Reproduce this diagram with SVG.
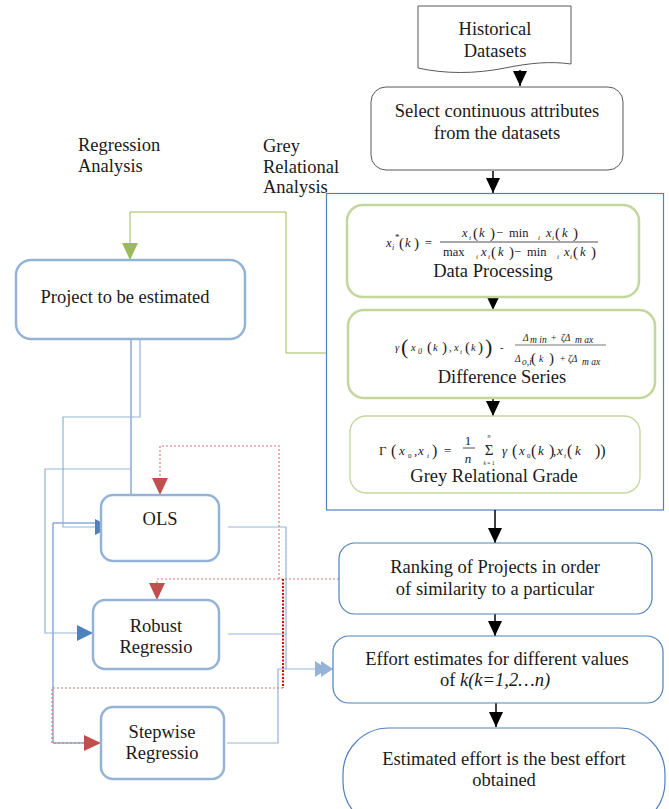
<svg xmlns="http://www.w3.org/2000/svg" width="669" height="809" viewBox="0 0 669 809" font-family="'Liberation Serif', 'Times New Roman', serif">
<defs>
<style>
text{fill:#1a1a1a}
.t{font-size:18.5px;text-anchor:middle}
.lbl{font-size:18.5px}
.i{font-style:italic}
.lb{fill:#fff;stroke:#95B3D7;stroke-width:2.5}
.rb{fill:#fff;stroke:#4F81BD;stroke-width:1.2}
.gb{fill:#fff;stroke:#C3D69B;stroke-width:2.5}
.blk{fill:none;stroke:#000;stroke-width:1.5}
.cd{fill:none;stroke:#4F81BD;stroke-width:1}
.cl{fill:none;stroke:#95B3D7;stroke-width:1.2}
.cg{fill:none;stroke:#9BBB59;stroke-width:1}
.cr{fill:none;stroke:#D77B78;stroke-width:1.2;stroke-dasharray:2 2}
.crr{fill:none;stroke:#E00000;stroke-width:2;stroke-dasharray:2 1.5}
.f1{font-size:12.5px}
.f2{font-size:10.5px}
.f3{font-size:13px}
</style>
<marker id="ab" markerUnits="userSpaceOnUse" markerWidth="15" markerHeight="14" refX="15" refY="7" orient="auto"><path d="M0,0 L15,7 L0,14 Z" fill="#000"/></marker>
<marker id="ag" markerUnits="userSpaceOnUse" markerWidth="17" markerHeight="16" refX="17" refY="8" orient="auto"><path d="M0,0 L17,8 L0,16 Z" fill="#9BBB59"/></marker>
<marker id="ar" markerUnits="userSpaceOnUse" markerWidth="17" markerHeight="16" refX="17" refY="8" orient="auto"><path d="M0,0 L17,8 L0,16 Z" fill="#C0504D"/></marker>
<marker id="au" markerUnits="userSpaceOnUse" markerWidth="16" markerHeight="16" refX="16" refY="8" orient="auto"><path d="M0,0 L16,8 L0,16 Z" fill="#4F81BD"/></marker>
<marker id="ad" markerUnits="userSpaceOnUse" markerWidth="18" markerHeight="16" refX="18" refY="8" orient="auto"><path d="M0,0 L12,8 L0,16 Z M6,0 L18,8 L6,16 Z" fill="#95B3D7"/></marker>
</defs>

<g id="labels">
<text class="lbl" x="78" y="151">Regression</text>
<text class="lbl" x="78" y="172">Analysis</text>
<text class="lbl" x="263" y="152">Grey</text>
<text class="lbl" x="263" y="173">Relational</text>
<text class="lbl" x="263" y="193">Analysis</text>
</g>

<g id="grey-relational-frame">
<rect x="326.5" y="193.5" width="337" height="316.5" fill="none" stroke="#4F81BD" stroke-width="1.2"/>
</g>

<g id="connectors">
<path class="blk" d="M520,70 V86" marker-end="url(#ab)"/>
<path class="blk" d="M493,171 V193" marker-end="url(#ab)"/>
<path class="blk" d="M493,297 V310" marker-end="url(#ab)"/>
<path class="blk" d="M493,398 V416" marker-end="url(#ab)"/>
<path class="blk" d="M495,510 V543" marker-end="url(#ab)"/>
<path class="blk" d="M495,614 V636" marker-end="url(#ab)"/>
<path class="blk" d="M496,703 V727" marker-end="url(#ab)"/>
<path class="cg" d="M326,353 H286 V212 H130 V260" marker-end="url(#ag)"/>
<path class="cd" d="M131,340 V523 H53 V743 H88"/>
<path class="cl" d="M131,469 H45 V633 H93" marker-end="url(#au)"/>
<path class="cl" d="M140,340 V417 H63 V527 H111" marker-end="url(#au)"/>
<path class="cl" d="M228,527 H286 V669 H333" marker-end="url(#ad)"/>
<path class="cl" d="M228,634 H286"/>
<path class="cl" d="M227,743 H278 V669 H286"/>
<path class="cr" d="M339,579 H279 V446 H160 V495" marker-end="url(#ar)"/>
<path class="cr" d="M279,579 H157 V600" marker-end="url(#ar)"/>
<path class="crr" d="M283,579 V688"/>
<path class="cr" d="M283,688 H52 V743 H101" marker-end="url(#ar)"/>
</g>

<g id="historical-datasets">
<path d="M418,6 H571 V64 C550,61 530,63 505,68 C475,74 445,74 418,68 Z" fill="#fff" stroke="#595959" stroke-width="1"/>
<text class="t" x="495" y="35">Historical</text>
<text class="t" x="495" y="57">Datasets</text>
</g>

<g id="select-attributes">
<rect x="371" y="87" width="252" height="83" rx="15" fill="#fff" stroke="#595959" stroke-width="1"/>
<text class="t" x="497" y="117">Select continuous attributes</text>
<text class="t" x="497" y="139">from the datasets</text>
</g>

<g id="data-processing">
<rect class="gb" x="347" y="205" width="292" height="92" rx="16"/>
<text class="f1" y="247"><tspan x="386" class="i">x</tspan><tspan x="392" y="250" font-size="8" class="i">i</tspan><tspan x="395" y="240" font-size="9">*</tspan><tspan x="399" y="248" font-size="15">(</tspan><tspan x="405" y="247" class="i">k</tspan><tspan x="414" y="248" font-size="15">)</tspan><tspan x="425" y="247">=</tspan></text>
<line x1="440" y1="242" x2="598" y2="242" stroke="#222" stroke-width="0.8"/>
<text class="f1" y="237"><tspan x="462" class="i">x</tspan><tspan x="469" y="240" font-size="7" class="i">i</tspan><tspan x="473" y="238" font-size="15">(</tspan><tspan x="479" y="237" class="i">k</tspan><tspan x="490" y="238" font-size="15">)</tspan><tspan x="496" y="237">−</tspan><tspan x="509">min</tspan><tspan x="538" y="240" font-size="7" class="i">i</tspan><tspan x="546" y="237" class="i">x</tspan><tspan x="552" y="240" font-size="7" class="i">i</tspan><tspan x="555" y="238" font-size="15">(</tspan><tspan x="562" y="237" class="i">k</tspan><tspan x="573" y="238" font-size="15">)</tspan></text>
<text class="f1" y="256"><tspan x="443">max</tspan><tspan x="476" y="259" font-size="7" class="i">i</tspan><tspan x="481" y="256" class="i">x</tspan><tspan x="488" y="259" font-size="7" class="i">i</tspan><tspan x="491" y="257" font-size="15">(</tspan><tspan x="498" y="256" class="i">k</tspan><tspan x="509" y="257" font-size="15">)</tspan><tspan x="514" y="256">−</tspan><tspan x="527">min</tspan><tspan x="557" y="259" font-size="7" class="i">i</tspan><tspan x="564" y="256" class="i">x</tspan><tspan x="570" y="259" font-size="7" class="i">i</tspan><tspan x="573" y="257" font-size="15">(</tspan><tspan x="580" y="256" class="i">k</tspan><tspan x="591" y="257" font-size="15">)</tspan></text>
<text class="t" x="493" y="277">Data Processing</text>
</g>

<g id="difference-series">
<rect class="gb" x="348" y="310" width="307" height="88" rx="16"/>
<text class="f2" y="351"><tspan x="395" class="i">γ</tspan><tspan x="401" y="354" font-size="22">(</tspan><tspan x="411" y="351" class="i">x</tspan><tspan x="418" y="354" font-size="8" class="i">0</tspan><tspan x="427" y="352" font-size="15">(</tspan><tspan x="433" y="351" class="i">k</tspan><tspan x="442" y="352" font-size="15">)</tspan><tspan x="449" y="351">,</tspan><tspan x="454" class="i">x</tspan><tspan x="460" y="354" font-size="7" class="i">i</tspan><tspan x="465" y="352" font-size="15">(</tspan><tspan x="471" y="351" class="i">k</tspan><tspan x="478" y="352" font-size="15">)</tspan><tspan x="485" y="354" font-size="22">)</tspan><tspan x="500" y="351">-</tspan></text>
<line x1="515" y1="345" x2="606" y2="345" stroke="#555" stroke-width="0.8"/>
<text font-size="9.5" class="i" y="341"><tspan x="523">Δ</tspan><tspan x="530" y="343">m in</tspan><tspan x="551" y="341" font-style="normal">+</tspan><tspan x="561">ζΔ</tspan><tspan x="575" y="343">m ax</tspan></text>
<text font-size="9.5" class="i" y="362"><tspan x="515">Δ</tspan><tspan x="522" y="365">o,i</tspan><tspan x="531" y="363" font-size="15" font-style="normal">(</tspan><tspan x="539" y="362">k</tspan><tspan x="549" y="363" font-size="15" font-style="normal">)</tspan><tspan x="560" y="362" font-style="normal">+</tspan><tspan x="568">ζΔ</tspan><tspan x="582" y="365">m ax</tspan></text>
<text class="t" x="502" y="383" font-size="16">Difference Series</text>
</g>

<g id="grey-relational-grade">
<rect x="350" y="416" width="290" height="77" rx="16" fill="#fff" stroke="#C3D69B" stroke-width="1.3"/>
<text class="f3" y="455"><tspan x="379">Γ</tspan><tspan x="391" y="456" font-size="16">(</tspan><tspan x="399" y="455" class="i">x</tspan><tspan x="408" y="458" font-size="7">0</tspan><tspan x="414" y="455">,</tspan><tspan x="418" class="i">x</tspan><tspan x="427" y="458" font-size="7" class="i">i</tspan><tspan x="432" y="456" font-size="16">)</tspan><tspan x="444" y="455">=</tspan></text>
<text class="f3" x="468" y="445" text-anchor="middle">1</text>
<line x1="463" y1="448" x2="475" y2="448" stroke="#222" stroke-width="0.8"/>
<text class="f3 i" x="468" y="463" text-anchor="middle">n</text>
<text x="489" y="455" font-size="15" text-anchor="middle">Σ</text>
<text x="489" y="438" font-size="6" text-anchor="middle" class="i">n</text>
<text x="489" y="465" font-size="5.5" text-anchor="middle"><tspan class="i">k</tspan> = 1</text>
<text class="f3" y="455"><tspan x="502" class="i">γ</tspan><tspan x="512" y="456" font-size="16">(</tspan><tspan x="519" y="455" class="i">x</tspan><tspan x="527" y="458" font-size="7">0</tspan><tspan x="531" y="456" font-size="16">(</tspan><tspan x="538" y="455" class="i">k</tspan><tspan x="549" y="456" font-size="16">)</tspan><tspan x="553" y="455">,</tspan><tspan x="557" class="i">x</tspan><tspan x="564" y="458" font-size="7" class="i">i</tspan><tspan x="567" y="456" font-size="16">(</tspan><tspan x="575" y="455" class="i">k</tspan><tspan x="595" y="456" font-size="16">))</tspan></text>
<text class="t" x="494" y="482" font-size="15.5">Grey Relational Grade</text>
</g>

<g id="project-to-be-estimated">
<rect class="lb" x="16" y="260" width="229" height="79" rx="15"/>
<text class="t" x="125" y="303">Project to be estimated</text>
</g>

<g id="ols">
<rect class="lb" x="101" y="495" width="118" height="66" rx="12"/>
<text class="t" x="160" y="525">OLS</text>
</g>

<g id="robust-regression">
<rect class="lb" x="93" y="600" width="126" height="69" rx="12"/>
<text class="t" x="156" y="632">Robust</text>
<text class="t" x="156" y="653">Regressio</text>
</g>

<g id="stepwise-regression">
<rect class="lb" x="101" y="707" width="123" height="72" rx="12"/>
<text class="t" x="162" y="738">Stepwise</text>
<text class="t" x="162" y="759">Regressio</text>
</g>

<g id="ranking">
<rect class="rb" x="339" y="543" width="313" height="71" rx="16"/>
<text class="t" x="495" y="573">Ranking of Projects in order</text>
<text class="t" x="495" y="595">of similarity to a particular</text>
</g>

<g id="effort-estimates">
<rect class="rb" x="333" y="636" width="330" height="67" rx="16"/>
<text class="t" x="497" y="665">Effort estimates for different values</text>
<text x="440" y="686" font-size="18.5">of <tspan x="460" class="i">k(k=1,2…n)</tspan></text>
</g>

<g id="estimated-effort">
<rect class="rb" x="343" y="728" width="322" height="100" rx="46" ry="46"/>
<text class="t" x="504" y="765">Estimated effort is the best effort</text>
<text class="t" x="504" y="786">obtained</text>
</g>
</svg>
